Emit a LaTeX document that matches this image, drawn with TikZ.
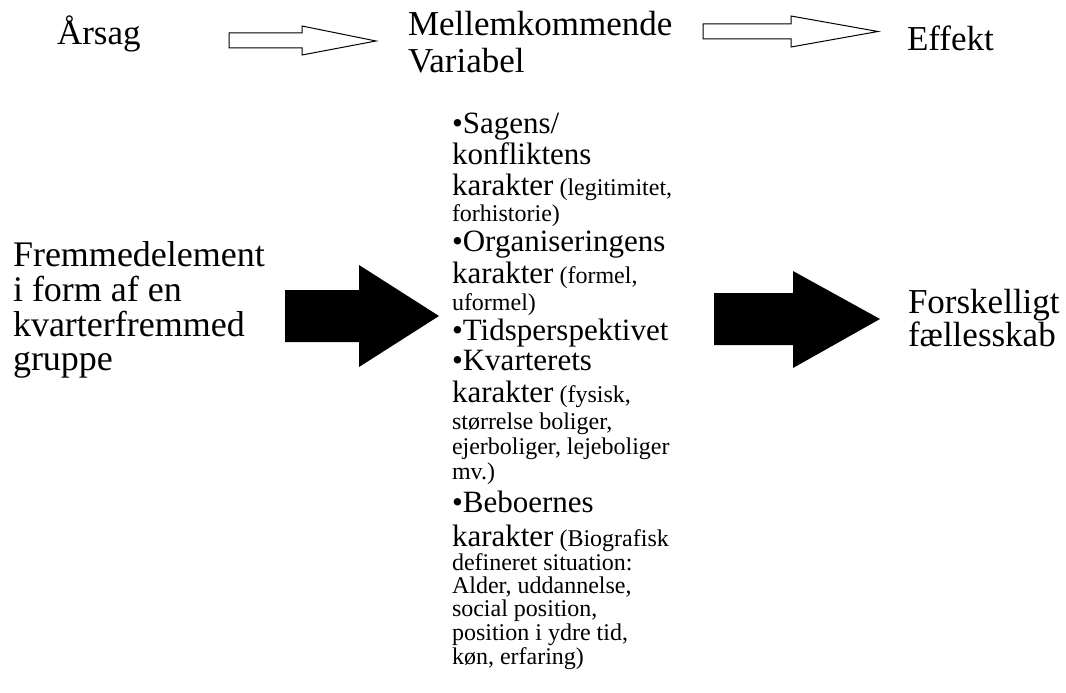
\documentclass[tikz,border=0pt]{standalone}
\usepackage{fontspec}
\setmainfont{Liberation Serif}
\newcommand{\fsbig}{\fontsize{35}{35}\selectfont}
\newcommand{\fsleft}{\fontsize{36}{36}\selectfont}
\newcommand{\fsmid}{\fontsize{31}{31}\selectfont}
\newcommand{\fssmall}{\fontsize{24}{24}\selectfont}
\tikzset{
  lbl/.style={anchor=base west, inner sep=0pt, outer sep=0pt, font=\fsbig},
  lft/.style={anchor=base west, inner sep=0pt, outer sep=0pt, font=\fsleft},
  ml/.style={anchor=base west, inner sep=0pt, outer sep=0pt, font=\fsmid},
  sl/.style={anchor=base west, inner sep=0pt, outer sep=0pt, font=\fssmall},
  hollowarrow/.style={draw=black, line width=1pt, fill=white, line join=miter},
  solidarrow/.style={fill=black, draw=none},
}
\begin{document}
\begin{tikzpicture}[x=1pt,y=-1pt]
\useasboundingbox (0,0) rectangle (1066,693);
\fill[white] (0,0) rectangle (1066,693);

% top row
\node[lbl] (aarsag) at (57,45) {Årsag};
\node[lbl] (mell) at (408,36) {Mellemkommende};
\node[lbl] (var) at (408,73) {Variabel};
\node[lbl] (eff) at (907,51) {Effekt};

\draw[hollowarrow] (229,33) -- (302,33) -- (302,26) -- (376,41) -- (302,55) -- (302,48) -- (229,48) -- cycle;
\draw[hollowarrow] (703,24) -- (791,24) -- (791,16) -- (878,31.5) -- (791,47) -- (791,39) -- (703,39) -- cycle;

% left text
\node[lft] (l1) at (13,266) {Fremmedelement};
\node[lft] (l2) at (13,301) {i form af en};
\node[lft] (l3) at (13,336) {kvarterfremmed};
\node[lft] (l4) at (13,370) {gruppe};

% black arrows
\fill[solidarrow] (285,290) -- (359,290) -- (359,265) -- (439,316) -- (359,367) -- (359,342) -- (285,342) -- cycle;
\fill[solidarrow] (714,293) -- (793,293) -- (793,271) -- (880,319) -- (793,368) -- (793,345) -- (714,345) -- cycle;

% middle list
\node[ml] (m1) at (452,133) {•Sagens/};
\node[ml] (m2) at (452,164) {konfliktens};
\node[ml] (m3) at (452,195) {karakter{\fssmall\ (legitimitet,}};
\node[sl] (m4) at (452,221) {forhistorie)};
\node[ml] (m5) at (452,251) {•Organiseringens};
\node[ml] (m6) at (452,283) {karakter{\fssmall\ (formel,}};
\node[sl] (m7) at (452,310) {uformel)};
\node[ml] (m8) at (452,340) {•Tidsperspektivet};
\node[ml] (m9) at (452,370) {•Kvarterets};
\node[ml] (m10) at (452,402) {karakter{\fssmall\ (fysisk,}};
\node[sl] (m11) at (452,429) {størrelse boliger,};
\node[sl] (m12) at (452,454) {ejerboliger, lejeboliger};
\node[sl] (m13) at (452,479) {mv.)};
\node[ml] (m14) at (452,512) {•Beboernes};
\node[ml] (m15) at (452,546) {karakter{\fssmall\ (Biografisk}};
\node[sl] (m16) at (452,570) {defineret situation:};
\node[sl] (m17) at (452,593) {Alder, uddannelse,};
\node[sl] (m18) at (452,616) {social position,};
\node[sl] (m19) at (452,640) {position i ydre tid,};
\node[sl] (m20) at (452,664) {køn, erfaring)};

% right text
\node[lbl] (r1) at (908,313) {Forskelligt};
\node[lbl] (r2) at (908,346) {fællesskab};
\end{tikzpicture}
\end{document}
